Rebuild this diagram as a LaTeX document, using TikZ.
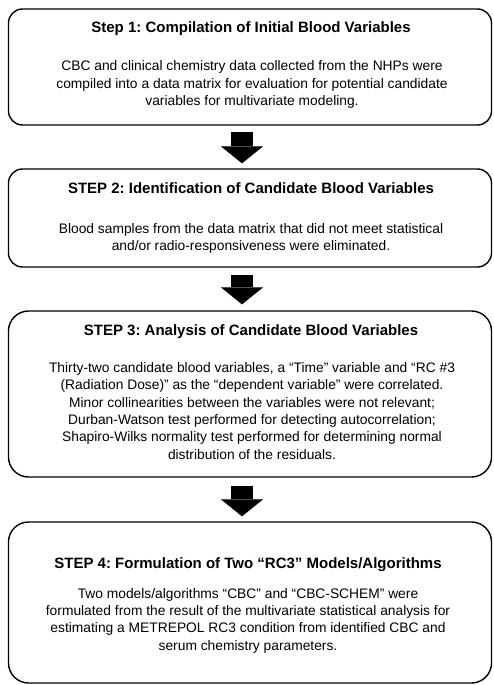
\documentclass[tikz,border=0pt]{standalone}
\usepackage{fontspec}
\setmainfont{Liberation Sans}
\usepackage{tikz}
\usetikzlibrary{arrows.meta,positioning,calc}
\frenchspacing

\tikzset{
  stepbox/.style={draw, line width=1.4pt, rounded corners=14pt, minimum width=483pt},
  steptitle/.style={font=\fontsize{15}{18}\selectfont\bfseries},
  stepbody/.style={font=\fontsize{13.8}{17.3}\selectfont, align=center},
  stepflow/.style={line width=22pt, -{Triangle[width=42pt,length=17pt,line width=0.1pt]}}
}

\begin{document}
\begin{tikzpicture}[x=1pt,y=-1pt]
    \useasboundingbox (0,0) rectangle (494,685);

    % Step 1
    \node[stepbox, minimum height=116pt] (s1) at (250,67) {};
    \node[steptitle] (t1) at (251,29) {Step 1: Compilation of Initial Blood Variables};
    \node[stepbody] (b1) at (252,84.5) {CBC and clinical chemistry data collected from the NHPs were\\
      compiled into a data matrix for evaluation for potential candidate\\
      variables for multivariate modeling.};

    % Step 2
    \node[stepbox, minimum height=98pt] (s2) at (250,218) {};
    \node[steptitle] (t2) at (251,188) {STEP 2: Identification of Candidate Blood Variables};
    \node[stepbody] (b2) at (251,238.5) {Blood samples from the data matrix that did not meet statistical\\
      and/or radio-responsiveness were eliminated.};

    % Step 3
    \node[stepbox, rounded corners=20pt, minimum height=166pt] (s3) at (250,394) {};
    \node[steptitle] (t3) at (251,332) {STEP 3: Analysis of Candidate Blood Variables};
    \node[stepbody] (b3) at (252,411) {Thirty-two candidate blood variables, a “Time” variable and “RC \#3\\
      (Radiation Dose)” as the “dependent variable” were correlated.\\
      Minor collinearities between the variables were not relevant;\\
      Durban-Watson test performed for detecting autocorrelation;\\
      Shapiro-Wilks normality test performed for determining normal\\
      distribution of the residuals.};

    % Step 4
    \node[stepbox, rounded corners=20pt, minimum height=161pt] (s4) at (250,602.5) {};
    \node[steptitle] (t4) at (248,565) {STEP 4: Formulation of Two “RC3” Models/Algorithms};
    \node[stepbody] (b4) at (248,620.5) {Two models/algorithms “CBC” and “CBC-SCHEM” were\\
      formulated from the result of the multivariate statistical analysis for\\
      estimating a METREPOL RC3 condition from identified CBC and\\
      serum chemistry parameters.};

    % Arrows
    \draw[stepflow] ([xshift=-8pt,yshift=-6pt]s1.south) -- ([xshift=-8pt,yshift=5pt]s2.north);
    \draw[stepflow] ([xshift=-8pt,yshift=-7pt]s2.south) -- ([xshift=-8pt,yshift=6pt]s3.north);
    \draw[stepflow] ([xshift=-8pt,yshift=-8pt]s3.south) -- ([xshift=-8pt,yshift=5pt]s4.north);
\end{tikzpicture}
\end{document}
